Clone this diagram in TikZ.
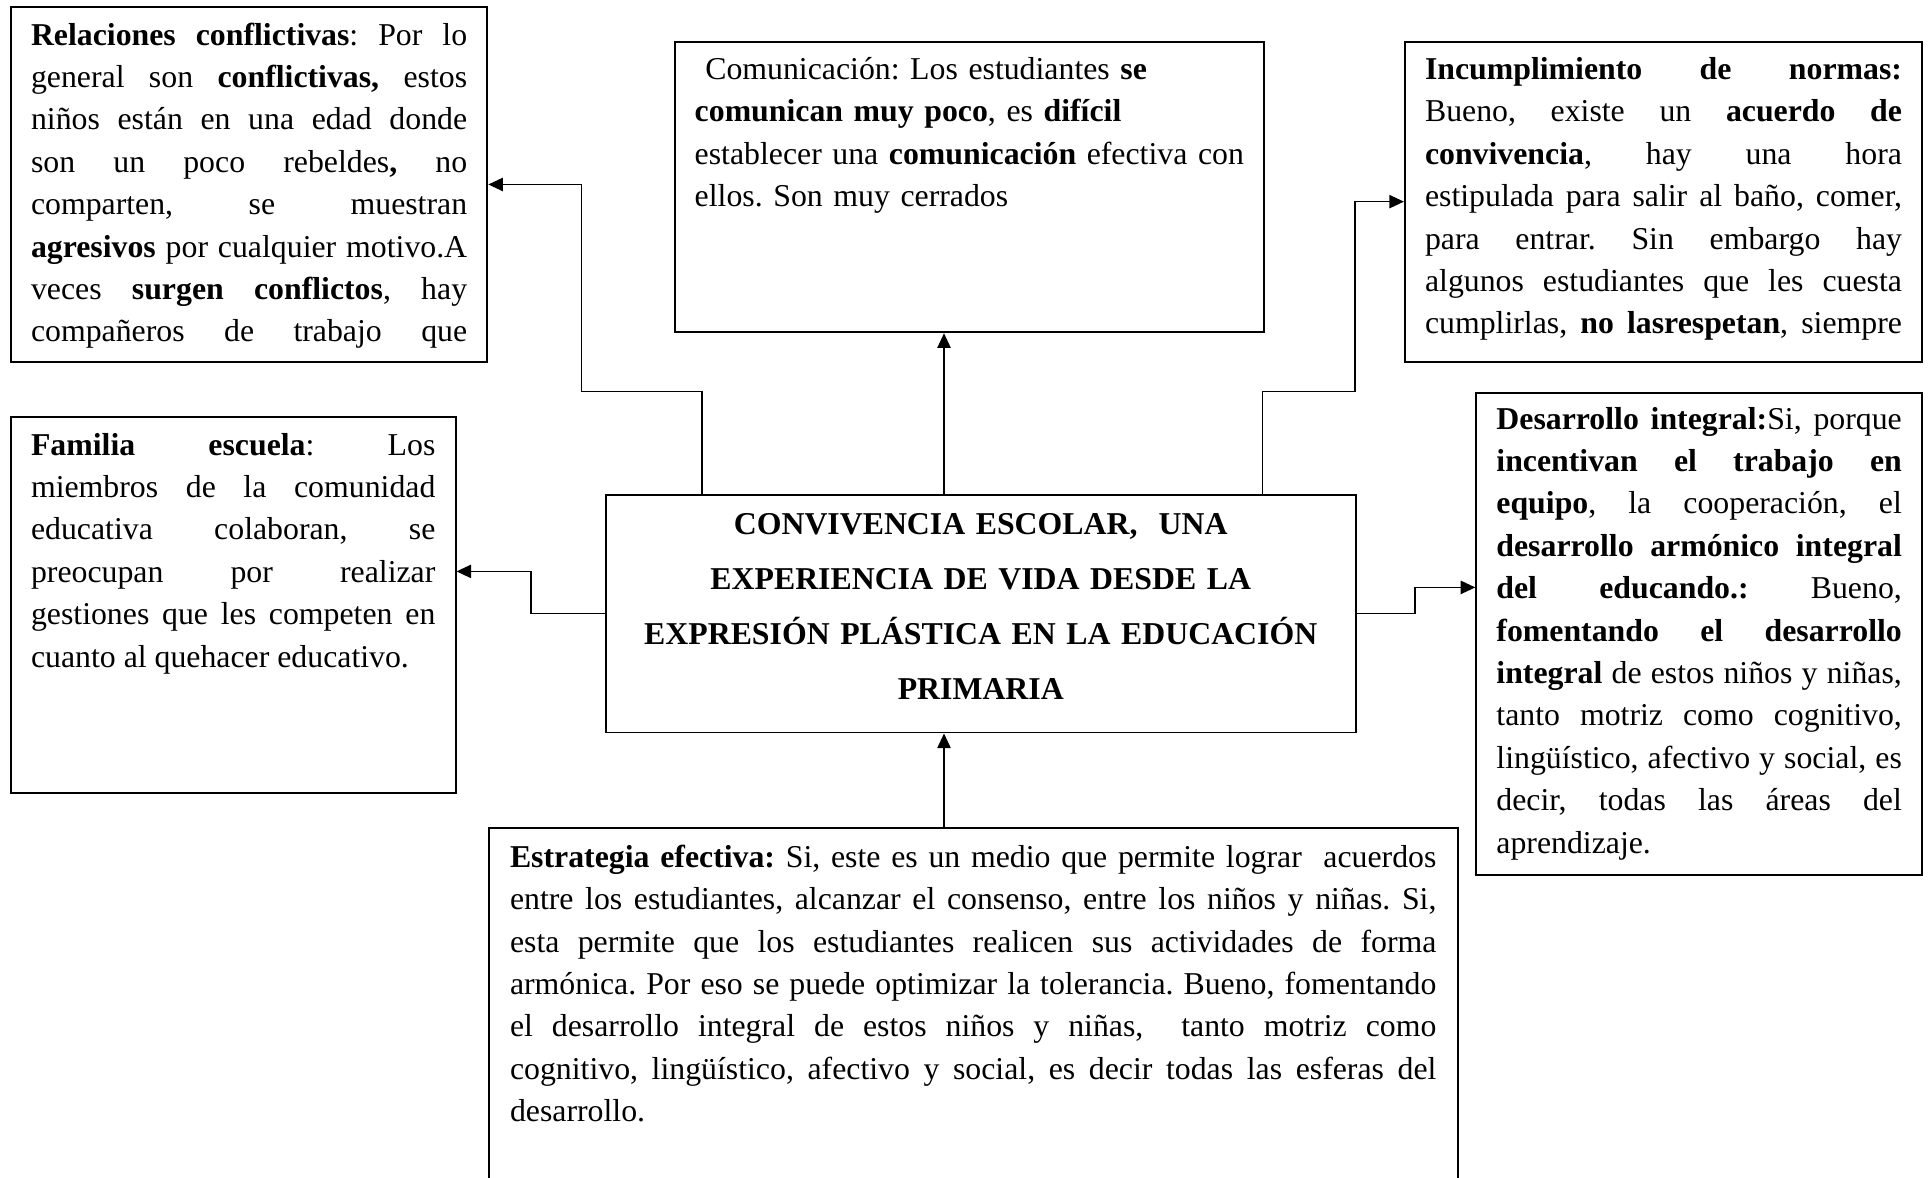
\documentclass[tikz,border=0pt]{standalone}
\usepackage{fontspec}
\setmainfont{Liberation Serif}
\usetikzlibrary{arrows.meta}
\frenchspacing

\begin{document}
\begin{tikzpicture}[x=0.3774pt, y=-0.3774pt,
    card/.style={draw, line width=0.75pt, anchor=north west, align=justify,
        inner xsep=7.6pt, inner ysep=0pt, text height=14.3pt,
        font=\fontsize{12pt}{16pt}\selectfont},
    headline/.style={card, align=center, text height=14.9pt,
        font=\fontsize{12pt}{20.8pt}\selectfont\bfseries},
    link/.style={line width=0.6pt, -{Triangle[length=5.5pt,width=5pt]}}]
    \useasboundingbox (0,0) rectangle (1931,1177);

    % Boxes
    \node[card, text width=164.6pt, text depth=119.5pt] (rel) at (9.9,6.2)
        {\textbf{Relaciones conflictivas}: Por lo\linebreak
        general son \textbf{conflictivas,} estos\linebreak
        niños están en una edad donde\linebreak
        son un poco rebeldes\textbf{,} no\linebreak
        comparten, se muestran\linebreak
        \textbf{agresivos} por cualquier motivo.A\linebreak
        veces \textbf{surgen conflictos}, hay\linebreak
        compañeros de trabajo que\linebreak\mbox{}};

    \node[card, align=left, text width=207.4pt, text depth=95.4pt] (com) at (673.6,40.6)
        {\ Comunicación: Los estudiantes \textbf{se}\\
        \textbf{comunican muy poco}, es \textbf{difícil}\\
        establecer una \textbf{comunicación} efectiva con\\
        ellos. Son muy cerrados};

    \node[card, text width=180pt, text depth=106.5pt] (inc) at (1403.9,40.6)
        {\textbf{Incumplimiento de normas:}\linebreak
        Bueno, existe un \textbf{acuerdo de}\linebreak
        \textbf{convivencia}, hay una hora\linebreak
        estipulada para salir al baño, comer,\linebreak
        para entrar. Sin embargo hay\linebreak
        algunos estudiantes que les cuesta\linebreak
        cumplirlas, \textbf{no lasrespetan}, siempre\linebreak\mbox{}};

    \node[card, text width=152.6pt, text depth=127.5pt] (fam) at (9.9,416.2)
        {\textbf{Familia escuela}: Los\linebreak
        miembros de la comunidad\linebreak
        educativa colaboran, se\linebreak
        preocupan por realizar\linebreak
        gestiones que les competen en\linebreak
        cuanto al quehacer educativo.};

    \node[headline, text width=267.9pt, text depth=74.8pt] (cen) at (604.7,493.8)
        {CONVIVENCIA ESCOLAR,~ UNA\\
        EXPERIENCIA DE VIDA DESDE LA\\
        EXPRESIÓN PLÁSTICA EN LA EDUCACIÓN\\
        PRIMARIA};

    \node[card, text width=153pt, text height=13.8pt, text depth=168.4pt] (des) at (1475.3,391.6)
        {\textbf{Desarrollo integral:}Si, porque\linebreak
        \textbf{incentivan el trabajo en}\linebreak
        \textbf{equipo}, la cooperación, el\linebreak
        \textbf{desarrollo armónico integral}\linebreak
        \textbf{del educando.:} Bueno,\linebreak
        \textbf{fomentando el desarrollo}\linebreak
        \textbf{integral} de estos niños y niñas,\linebreak
        tanto motriz como cognitivo,\linebreak
        lingüístico, afectivo y social, es\linebreak
        decir, todas las áreas del\linebreak
        aprendizaje.};

    \node[card, draw=none, text width=349.6pt, text height=14.6pt, text depth=117.3pt] (est) at (488.9,827.6)
        {\textbf{Estrategia efectiva:} Si, este es un medio que permite lograr~ acuerdos\linebreak
        entre los estudiantes, alcanzar el consenso, entre los niños y niñas. Si,\linebreak
        esta permite que los estudiantes realicen sus actividades de forma\linebreak
        armónica. Por eso se puede optimizar la tolerancia. Bueno, fomentando\linebreak
        el desarrollo integral de estos niños y niñas,~ tanto motriz como\linebreak
        cognitivo, lingüístico, afectivo y social, es decir todas las esferas del\linebreak
        desarrollo.};
    \draw[line width=0.75pt] (est.south west) -- (est.north west) -- (est.north east) -- (est.south east);

    % Bend points
    \coordinate (axis) at (944,0);
    \coordinate (relfoot) at (702,0);
    \coordinate (relbend) at (581.3,391.6);
    \coordinate (incfoot) at (1262.3,0);
    \coordinate (incbend) at (1354.7,391.6);
    \coordinate (fambend) at (530.8,571.4);
    \coordinate (desbend) at (1415,587.4);

    % Arrows
    \draw[link] (cen.north -| relfoot) |- (relbend) |- (rel.east);
    \draw[link] (cen.north -| axis) -- (com.south -| axis);
    \draw[link] (cen.north -| incfoot) |- (incbend) |- (inc.west);
    \draw[link] (cen.west) -| (fambend) -- (fambend -| fam.east);
    \draw[link] (cen.east) -| (desbend) -- (desbend -| des.west);
    \draw[link] (est.north -| axis) -- (cen.south -| axis);
\end{tikzpicture}
\end{document}
